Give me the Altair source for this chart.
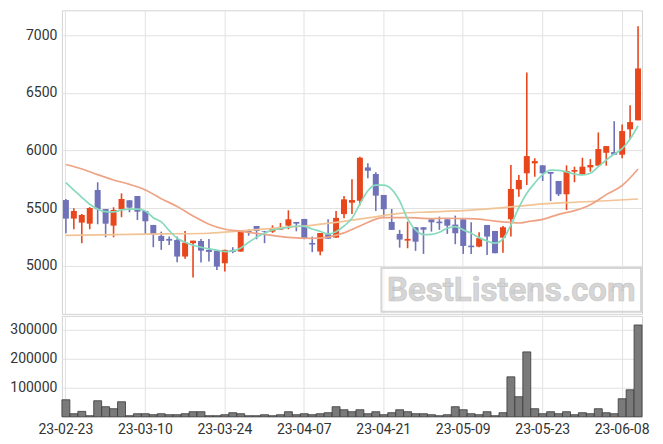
import altair as alt
import pandas as pd

dates = [
    "23-02-23", "23-02-24", "23-02-27", "23-02-28", "23-03-02", "23-03-03", "23-03-06", "23-03-07",
    "23-03-08", "23-03-09", "23-03-10", "23-03-13", "23-03-14", "23-03-15", "23-03-16", "23-03-17",
    "23-03-20", "23-03-21", "23-03-22", "23-03-23", "23-03-24", "23-03-27", "23-03-28", "23-03-29",
    "23-03-30", "23-03-31", "23-04-03", "23-04-04", "23-04-05", "23-04-06", "23-04-07", "23-04-10",
    "23-04-11", "23-04-12", "23-04-13", "23-04-14", "23-04-17", "23-04-18", "23-04-19", "23-04-20",
    "23-04-21", "23-04-24", "23-04-25", "23-04-26", "23-04-27", "23-04-28", "23-05-02", "23-05-03",
    "23-05-04", "23-05-08", "23-05-09", "23-05-10", "23-05-11", "23-05-12", "23-05-15", "23-05-16",
    "23-05-17", "23-05-18", "23-05-19", "23-05-22", "23-05-23", "23-05-24", "23-05-25", "23-05-26",
    "23-05-30", "23-05-31", "23-06-01", "23-06-02", "23-06-05", "23-06-07", "23-06-08", "23-06-09",
    "23-06-12",
]
tick_dates = ["23-02-23", "23-03-10", "23-03-24", "23-04-07", "23-04-21", "23-05-09", "23-05-23", "23-06-08"]

opens = [5571, 5410, 5375, 5366, 5658, 5493, 5349, 5491, 5569, 5606, 5476, 5355, 5260, 5234, 5225, 5081,
         5197, 5216, 5139, 5132, 5023, 5139, 5124, 5303, 5346, 5303, 5297, 5314, 5349, 5381, 5407, 5199,
         5124, 5274, 5245, 5449, 5548, 5565, 5854, 5797, 5615, 5381, 5277, 5219, 5335, 5335, 5404, 5384,
         5404, 5358, 5404, 5176, 5167, 5355, 5303, 5245, 5404, 5664, 5803, 5889, 5872, 5814, 5736, 5621,
         5817, 5797, 5854, 5869, 5981, 5987, 5964, 6184, 6262]
highs = [5580, 5500, 5450, 5510, 5725, 5493, 5508, 5629, 5569, 5606, 5476, 5355, 5297, 5254, 5254, 5303,
         5219, 5234, 5234, 5132, 5139, 5162, 5303, 5318, 5346, 5303, 5352, 5372, 5482, 5381, 5407, 5254,
         5286, 5404, 5476, 5606, 5751, 5946, 5889, 5811, 5615, 5493, 5312, 5384, 5335, 5335, 5404, 5427,
         5404, 5436, 5404, 5378, 5292, 5355, 5303, 5346, 5874, 5788, 6677, 5933, 5872, 5814, 5736, 5872,
         5860, 5938, 5926, 6157, 6039, 6255, 6227, 6394, 7078]
lows = [5283, 5318, 5197, 5318, 5361, 5248, 5248, 5422, 5465, 5398, 5274, 5162, 5139, 5182, 5032, 5061,
        4899, 5029, 5037, 4965, 4951, 5110, 5124, 5262, 5231, 5197, 5286, 5314, 5318, 5300, 5231, 5119,
        5093, 5236, 5245, 5413, 5450, 5525, 5759, 5476, 5427, 5312, 5158, 5153, 5130, 5104, 5297, 5312,
        5277, 5188, 5104, 5104, 5162, 5095, 5110, 5115, 5254, 5600, 5701, 5773, 5736, 5563, 5606, 5485,
        5725, 5788, 5817, 5869, 5869, 5964, 5933, 6097, 6262]
closes = [5410, 5476, 5442, 5502, 5491, 5366, 5485, 5580, 5505, 5470, 5387, 5271, 5216, 5219, 5081, 5202,
          5219, 5132, 5121, 4994, 5139, 5121, 5303, 5292, 5303, 5297, 5320, 5338, 5404, 5366, 5240, 5185,
          5286, 5236, 5416, 5577, 5571, 5938, 5825, 5609, 5491, 5312, 5228, 5234, 5210, 5314, 5378, 5370,
          5349, 5283, 5173, 5162, 5240, 5254, 5110, 5335, 5667, 5745, 5952, 5909, 5803, 5799, 5621, 5823,
          5831, 5860, 5875, 6013, 6039, 5964, 6169, 6247, 6712]
volumes = [58600, 10300, 18400, 3400, 55200, 34500, 27600, 51700, 3400, 10300, 10300, 6900, 10300, 6900,
           6900, 10300, 17200, 17200, 3400, 3400, 6900, 13800, 10300, 3400, 3400, 6900, 3400, 6900, 17200,
           6900, 10300, 6900, 10300, 13800, 34500, 24100, 17200, 24100, 10300, 17200, 6900, 13800, 24100,
           17200, 10300, 10300, 6900, 3400, 6900, 34500, 24100, 10300, 6900, 17200, 3400, 13800, 137900,
           69000, 224100, 27600, 10300, 17200, 10300, 17200, 6900, 13800, 10300, 27600, 13800, 10300,
           62100, 93100, 317200]

ma5 = [5721, 5658, 5595, 5534, 5493, 5470, 5468, 5485, 5493, 5493, 5476, 5418, 5381, 5306, 5240, 5205,
       5179, 5162, 5147, 5136, 5124, 5130, 5156, 5205, 5248, 5283, 5312, 5323, 5335, 5346, 5343, 5320,
       5300, 5277, 5297, 5346, 5413, 5537, 5652, 5701, 5701, 5664, 5563, 5407, 5312, 5271, 5274, 5292,
       5326, 5340, 5312, 5283, 5245, 5216, 5197, 5234, 5355, 5505, 5630, 5718, 5791, 5831, 5829, 5814,
       5797, 5788, 5803, 5860, 5918, 5970, 6016, 6100, 6215]

ma20_idx = [0, 2, 4, 6, 8, 10, 12, 14, 16, 18, 20, 22, 25, 28, 31, 33, 35, 37, 40, 43, 46, 48, 50, 52,
            54, 56, 57, 58, 60, 62, 64, 66, 68, 70, 72]
ma20_val = [5879, 5840, 5791, 5745, 5707, 5658, 5583, 5515, 5433, 5361, 5318, 5300, 5273, 5247, 5238, 5250,
            5286, 5346, 5418, 5418, 5410, 5413, 5410, 5405, 5388, 5376, 5372, 5382, 5403, 5447, 5479, 5531,
            5618, 5697, 5840]

ma60_idx = [0, 12, 18, 22, 26, 30, 34, 38, 42, 46, 50, 56, 60, 64, 68, 72]
ma60_val = [5264, 5277, 5283, 5303, 5326, 5346, 5377, 5416, 5455, 5468, 5479, 5511, 5537, 5552, 5565, 5580]

df = pd.DataFrame({"date": dates, "open": opens, "high": highs, "low": lows,
                   "close": closes, "volume": volumes, "ma5": ma5})
df["dir"] = ["up" if c >= o else "down" for o, c in zip(opens, closes)]
df20 = pd.DataFrame({"date": [dates[i] for i in ma20_idx], "v": ma20_val})
df60 = pd.DataFrame({"date": [dates[i] for i in ma60_idx], "v": ma60_val})

FONT = "Roboto"
xscale = alt.Scale(domain=dates, paddingInner=0, paddingOuter=0)
color = alt.Color("dir:N", scale=alt.Scale(domain=["up", "down"], range=["#e8461c", "#6f72b8"]), legend=None)

x_top = alt.X("date:O", scale=xscale, title=None,
              axis=alt.Axis(values=tick_dates, labels=False, ticks=False, domain=False,
                            grid=True, bandPosition=0.5))
x_bot = alt.X("date:O", scale=xscale, title=None,
              axis=alt.Axis(values=tick_dates, labelAngle=0, ticks=False, domain=False, grid=True,
                            bandPosition=0.5, labelPadding=6))

yprice = alt.Scale(domain=[4584, 7216], nice=False, zero=False)
yaxis = alt.Axis(values=[5000, 5500, 6000, 6500, 7000], format="d", ticks=False, domain=False,
                 labelPadding=5, minExtent=53, maxExtent=53)

base = alt.Chart(df)
wick = base.mark_rule(strokeWidth=1.6).encode(
    x=x_top, y=alt.Y("low:Q", scale=yprice, axis=yaxis, title=None), y2="high:Q", color=color)
body = base.mark_bar(size=6).encode(
    x=x_top, y=alt.Y("open:Q", scale=yprice), y2="close:Q", color=color)
line5 = base.mark_line(color="#88dabd", strokeWidth=1.7, interpolate="monotone").encode(
    x=x_top, y=alt.Y("ma5:Q", scale=yprice))
line20 = alt.Chart(df20).mark_line(color="#efa385", strokeWidth=1.7, interpolate="monotone").encode(
    x=x_top, y=alt.Y("v:Q", scale=yprice))
line60 = alt.Chart(df60).mark_line(color="#f2c394", strokeWidth=1.7, interpolate="monotone").encode(
    x=x_top, y=alt.Y("v:Q", scale=yprice))

wm_df = pd.DataFrame({"t": ["BestListens.com"]})
wm_box = alt.Chart(wm_df).mark_rect(fill="#ffffff", fillOpacity=0.6, stroke="#d6d6d6", strokeWidth=2).encode(
    x=alt.value(320), x2=alt.value(580), y=alt.value(258), y2=alt.value(302))
wm_text = alt.Chart(wm_df).mark_text(font=FONT, fontSize=33, fontWeight="bold", color="#d6d6d6",
                                     stroke="#c4c4c4", strokeWidth=0.6).encode(
    x=alt.value(450), y=alt.value(281), text="t:N")

price = alt.layer(wick, body, line60, line20, line5, wm_box, wm_text).properties(width=581, height=304)

vol = base.mark_bar(fill="#7a7a7a", stroke="#3a3a3a", strokeWidth=0.8).encode(
    x=x_bot,
    y=alt.Y("volume:Q", scale=alt.Scale(domain=[0, 348700], nice=False), title=None,
            axis=alt.Axis(values=[100000, 200000, 300000], format="d", ticks=False, domain=False,
                          labelPadding=5, minExtent=53, maxExtent=53)),
).properties(width=581, height=101)

chart = alt.vconcat(price, vol, spacing=0).properties(
    padding={"left": 0, "top": 1, "right": 5, "bottom": 5}
).configure_view(stroke="#d4d4d4").configure_axis(
    gridColor="#e2e2e2", labelColor="#333333", labelFont=FONT, labelFontSize=14
)

chart.save("out.html", embed_options={"renderer": "svg", "actions": False})
